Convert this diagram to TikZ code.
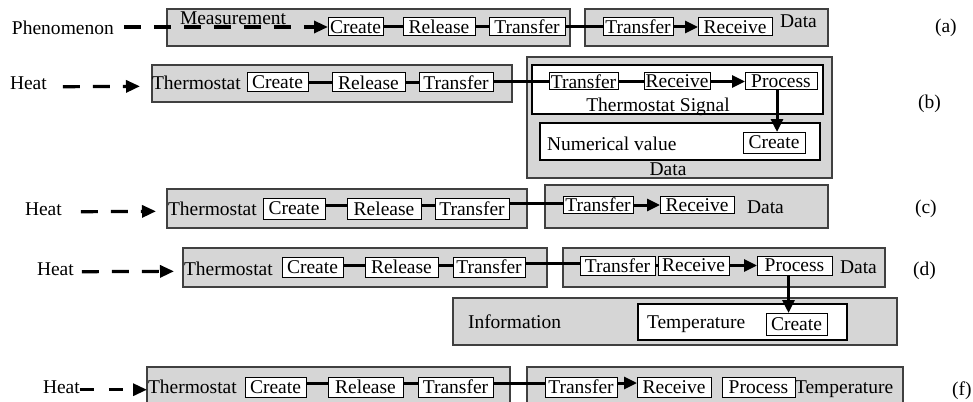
\documentclass[tikz,border=0pt]{standalone}
\usepackage{fontspec}
\setmainfont{Liberation Serif}
\usetikzlibrary{arrows.meta}

\begin{document}
\begin{tikzpicture}[x=1pt,y=-1pt,
  every node/.style={font=\fontsize{19.5}{22}\selectfont, inner sep=0pt, outer sep=0pt},
  lbl/.style={anchor=base west},
  grp/.style={draw=black!75, fill=black!16, line width=1.2pt, anchor=north west},
  pane/.style={draw=black, fill=white, line width=1.2pt, anchor=north west},
  act/.style={draw=black, fill=white, line width=1pt},
  link/.style={line width=3pt},
  flow/.style={line width=3pt, -{Triangle[length=13pt,width=12pt]}},
  cause/.style={line width=3.2pt, dash pattern=on 17pt off 13pt, -{Triangle[length=14pt,width=12pt]}},
]
\useasboundingbox (0,0) rectangle (973,401);

% ---------- row (a) ----------
\node[grp, minimum width=403pt, minimum height=37pt] (a-meas) at (167,9) {};
\node[grp, minimum width=243pt, minimum height=37pt] (a-data) at (585,9) {};
\node[lbl] (a-phen) at (12,35) {Phenomenon};
\node[lbl] (a-mlab) at (180,25) {Measurement};
\node[lbl] (a-dlab) at (780,28) {Data};
\node[lbl] (a-tag) at (935,33) {(a)};
\node[act, minimum width=55pt, minimum height=18pt] (a-cr) at (355.5,27) {Create};
\node[act, minimum width=72pt, minimum height=18pt] (a-rel) at (439,27) {Release};
\node[act, minimum width=76pt, minimum height=18pt] (a-tr) at (527,27) {Transfer};
\node[act, minimum width=70pt, minimum height=18pt] (a-tr2) at (638,27) {Transfer};
\node[act, minimum width=74pt, minimum height=18pt] (a-rec) at (735,27) {Receive};
\draw[cause] ([xshift=10pt]a-phen.east |- a-cr.west) -- (a-cr.west);
\draw[link] (a-cr) -- (a-rel);
\draw[link] (a-rel) -- (a-tr);
\draw[link] (a-tr) -- (a-tr2);
\draw[flow] (a-tr2) -- (a-rec);

% ---------- row (b) ----------
\node[grp, minimum width=360pt, minimum height=37pt] (b-therm) at (152,65) {};
\node[grp, minimum width=305pt, minimum height=121pt] (b-data) at (527,57) {};
\node[pane, minimum width=291pt, minimum height=49pt] (b-sig) at (532,65) {};
\node[pane, minimum width=280pt, minimum height=37pt] (b-num) at (540,123) {};
\node[lbl] (b-heat) at (10,90) {Heat};
\node[lbl] (b-thlab) at (152,90) {Thermostat};
\node[anchor=base] (b-siglab) at (658,111) {Thermostat Signal};
\node[lbl] (b-numlab) at (547,150) {Numerical value};
\node[anchor=base] (b-dlab) at (668,175) {Data};
\node[lbl] (b-tag) at (918,109) {(b)};
\node[act, minimum width=61pt, minimum height=19pt] (b-cr) at (277.5,82.5) {Create};
\node[act, minimum width=73pt, minimum height=19pt] (b-rel) at (368.5,82.5) {Release};
\node[act, minimum width=74pt, minimum height=19pt] (b-tr) at (456,82.5) {Transfer};
\node[act, minimum width=69pt, minimum height=17pt] (b-tr2) at (583.5,81.5) {Transfer};
\node[act, minimum width=66pt, minimum height=17pt] (b-rec) at (677,81.5) {Receive};
\node[act, minimum width=72pt, minimum height=17pt] (b-pr) at (781,81.5) {Process};
\node[act, minimum width=62pt, minimum height=21pt] (b-cr2) at (774,142.5) {Create};
\draw[cause] ([xshift=16pt,yshift=-3pt]b-heat.east) -- ([xshift=-12pt,yshift=-3pt]b-thlab.west);
\draw[link] (b-cr) -- (b-rel);
\draw[link] (b-rel) -- (b-tr);
\draw[link] (b-tr.east |- b-tr2.west) -- (b-tr2.west);
\draw[link] (b-tr2) -- (b-rec);
\draw[flow] (b-rec) -- (b-pr);
\draw[flow] ([xshift=-4pt]b-pr.south) -- ([xshift=-4pt]b-pr.south |- b-cr2.north);

% ---------- row (c) ----------
\node[grp, minimum width=360pt, minimum height=39pt] (c-therm) at (167,189) {};
\node[grp, minimum width=283pt, minimum height=43pt] (c-data) at (545,185) {};
\node[lbl] (c-heat) at (25,215) {Heat};
\node[lbl] (c-thlab) at (168,215) {Thermostat};
\node[lbl] (c-dlab) at (747,213) {Data};
\node[lbl] (c-tag) at (915,213) {(c)};
\node[act, minimum width=62pt, minimum height=21pt] (c-cr) at (294,208.5) {Create};
\node[act, minimum width=74pt, minimum height=21pt] (c-rel) at (384,208.5) {Release};
\node[act, minimum width=74pt, minimum height=21pt] (c-tr) at (472,208.5) {Transfer};
\node[act, minimum width=70pt, minimum height=17pt] (c-tr2) at (598,205) {Transfer};
\node[act, minimum width=74pt, minimum height=17pt] (c-rec) at (697,205) {Receive};
\draw[cause] ([xshift=19pt,yshift=-3pt]c-heat.east) -- ([xshift=-12pt,yshift=-3pt]c-thlab.west);
\draw[link] ([yshift=3pt]c-cr.east) -- ([yshift=3pt]c-rel.west);
\draw[link] ([yshift=3pt]c-rel.east) -- ([yshift=3pt]c-tr.west);
\draw[link] ([yshift=2pt]c-tr.east |- c-tr2.west) -- ([yshift=2pt]c-tr2.west);
\draw[flow] (c-tr2) -- (c-rec);

% ---------- row (d) ----------
\node[grp, minimum width=364pt, minimum height=39pt] (d-therm) at (183,248) {};
\node[grp, minimum width=322pt, minimum height=39pt] (d-data) at (563,248) {};
\node[grp, minimum width=444pt, minimum height=47pt] (d-info) at (453,298) {};
\node[pane, minimum width=209pt, minimum height=36pt] (d-temp) at (638,304) {};
\node[lbl] (d-heat) at (37,275) {Heat};
\node[lbl] (d-thlab) at (184,275) {Thermostat};
\node[lbl] (d-dlab) at (840,273) {Data};
\node[lbl] (d-tag) at (913,275) {(d)};
\node[lbl] (d-inflab) at (468,328) {Information};
\node[lbl] (d-templab) at (647,328) {Temperature};
\node[act, minimum width=61pt, minimum height=20pt] (d-cr) at (312.5,267) {Create};
\node[act, minimum width=73pt, minimum height=20pt] (d-rel) at (401.5,267) {Release};
\node[act, minimum width=72pt, minimum height=20pt] (d-tr) at (489,267) {Transfer};
\node[act, minimum width=75pt, minimum height=19pt] (d-tr2) at (617.5,265.5) {Transfer};
\node[act, minimum width=71pt, minimum height=19pt] (d-rec) at (693.5,265.5) {Receive};
\node[act, minimum width=75pt, minimum height=19pt] (d-pr) at (794.5,265.5) {Process};
\node[act, minimum width=61pt, minimum height=22pt] (d-cr2) at (796.5,324) {Create};
\draw[cause] ([xshift=8pt,yshift=-3pt]d-heat.east) -- ([xshift=-10pt,yshift=-3pt]d-thlab.west);
\draw[link] ([yshift=2pt]d-cr.east) -- ([yshift=2pt]d-rel.west);
\draw[link] ([yshift=2pt]d-rel.east) -- ([yshift=2pt]d-tr.west);
\draw[link] ([yshift=2pt]d-tr.east |- d-tr2.west) -- ([yshift=2pt]d-tr2.west);
\draw[link] (d-tr2) -- (d-rec);
\draw[flow] (d-rec) -- (d-pr);
\draw[flow] ([xshift=-6pt]d-pr.south) -- ([xshift=-6pt]d-pr.south |- d-cr2.north);

% ---------- row (f) ----------
\node[grp, minimum width=363pt, minimum height=50pt] (f-therm) at (147,367) {};
\node[grp, minimum width=376pt, minimum height=50pt] (f-data) at (527,367) {};
\node[lbl] (f-heat) at (43,393) {Heat};
\node[lbl] (f-thlab) at (148,393) {Thermostat};
\node[lbl] (f-templab) at (795,393) {Temperature};
\node[lbl] (f-tag) at (952,395) {(f)};
\node[act, minimum width=61pt, minimum height=20pt] (f-cr) at (275.5,387) {Create};
\node[act, minimum width=75pt, minimum height=20pt] (f-rel) at (365.5,387) {Release};
\node[act, minimum width=75pt, minimum height=20pt] (f-tr) at (455.5,387) {Transfer};
\node[act, minimum width=72pt, minimum height=20pt] (f-tr2) at (581,387) {Transfer};
\node[act, minimum width=74pt, minimum height=20pt] (f-rec) at (674,387) {Receive};
\node[act, minimum width=73pt, minimum height=20pt] (f-pr) at (758.5,387) {Process};
\draw[cause, dash pattern=on 14pt off 15pt] ([yshift=-3pt]f-heat.east) -- ([yshift=-3pt]f-heat.east -| f-therm.west);
\draw[link] ([yshift=4pt]f-cr.east) -- ([yshift=4pt]f-rel.west);
\draw[link] ([yshift=4pt]f-rel.east) -- ([yshift=4pt]f-tr.west);
\draw[link] ([yshift=4pt]f-tr.east) -- ([yshift=4pt]f-tr2.west);
\draw[flow] ([yshift=4pt]f-tr2.east) -- ([yshift=4pt]f-rec.west);
\end{tikzpicture}
\end{document}
